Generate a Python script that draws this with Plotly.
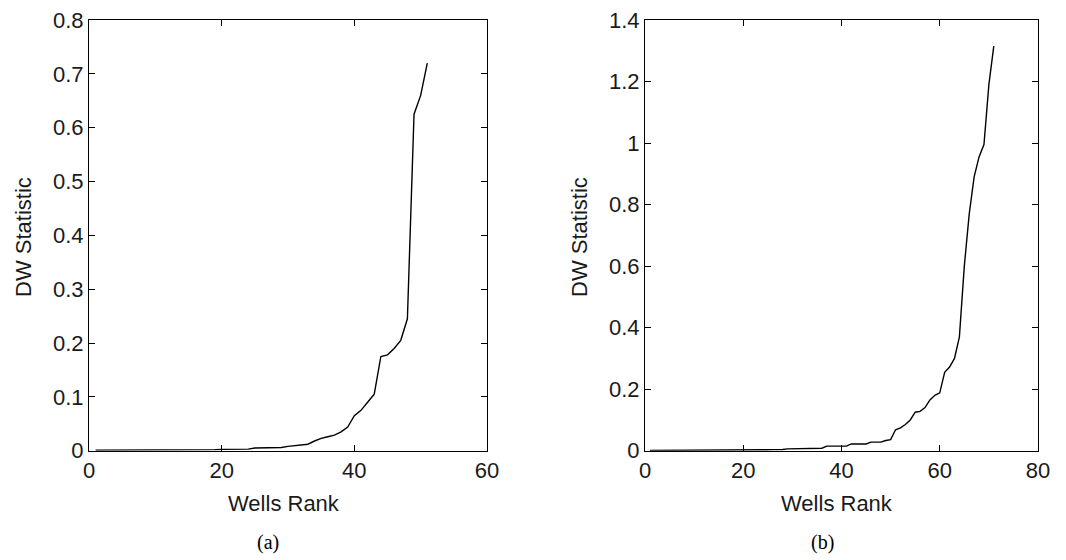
import plotly.graph_objects as go

# ---- data ----
rank_a = list(range(1, 52))
dw_a = [0.001, 0.001, 0.001, 0.001, 0.001, 0.001, 0.0015, 0.0015, 0.0015, 0.0015,
        0.0015, 0.0015, 0.002, 0.002, 0.002, 0.002, 0.002, 0.002, 0.002, 0.0025,
        0.0025, 0.0025, 0.003, 0.003, 0.005, 0.005, 0.005, 0.006, 0.006, 0.008,
        0.009, 0.010, 0.012, 0.018, 0.023, 0.026, 0.029, 0.035, 0.044, 0.065,
        0.075, 0.090, 0.105, 0.175, 0.178, 0.190, 0.205, 0.245, 0.625, 0.660,
        0.720]

rank_b = list(range(1, 72))
dw_b = [0.001, 0.001, 0.001, 0.001, 0.001, 0.001, 0.001, 0.0015, 0.0015, 0.0015,
        0.0015, 0.0015, 0.0015, 0.002, 0.002, 0.002, 0.002, 0.002, 0.002, 0.0025,
        0.0025, 0.0025, 0.003, 0.003, 0.003, 0.0035, 0.0035, 0.004, 0.006, 0.006,
        0.007, 0.007, 0.007, 0.008, 0.008, 0.008, 0.015, 0.015, 0.015, 0.015,
        0.015, 0.022, 0.022, 0.022, 0.022, 0.028, 0.028, 0.028, 0.033, 0.036,
        0.068, 0.074, 0.085, 0.100, 0.125, 0.128, 0.140, 0.165, 0.180, 0.188,
        0.255, 0.272, 0.300, 0.370, 0.600, 0.770, 0.890, 0.955, 0.995, 1.190,
        1.315]

x_ticks_a = [0, 20, 40, 60]
y_ticks_a = [0, 0.1, 0.2, 0.3, 0.4, 0.5, 0.6, 0.7, 0.8]
x_ticks_b = [0, 20, 40, 60, 80]
y_ticks_b = [0, 0.2, 0.4, 0.6, 0.8, 1.0, 1.2, 1.4]

x_title = "Wells Rank"
y_title = "DW Statistic"
captions = ["(a)", "(b)"]

# ---- figure ----
W, H = 1066, 560
FONT = "Liberation Sans, Arial, sans-serif"
TXT = "#1a1a1a"

fig = go.Figure()
fig.add_trace(go.Scatter(x=rank_a, y=dw_a, mode="lines",
                         line=dict(color="black", width=1.4),
                         xaxis="x", yaxis="y", showlegend=False))
fig.add_trace(go.Scatter(x=rank_b, y=dw_b, mode="lines",
                         line=dict(color="black", width=1.4),
                         xaxis="x2", yaxis="y2", showlegend=False))

ydom = [1 - 450.7 / H, 1 - 20 / H]
dom_a = [89 / W, 487 / W]
dom_b = [645 / W, 1038 / W]

axis_common = dict(showline=True, linecolor="black", linewidth=1, mirror="ticks",
                   ticks="inside", ticklen=6, tickwidth=1, tickcolor="black",
                   showgrid=False, zeroline=False, automargin=False,
                   tickfont=dict(family=FONT, size=22, color=TXT))

fig.update_layout(
    width=W, height=H, margin=dict(l=0, r=0, t=0, b=0),
    paper_bgcolor="white", plot_bgcolor="white", template="none",
    showlegend=False,
    xaxis=dict(domain=dom_a, range=[0, 60], tickvals=x_ticks_a, anchor="y", **axis_common),
    yaxis=dict(domain=ydom, range=[0, 0.8], tickvals=y_ticks_a, anchor="x", **axis_common),
    xaxis2=dict(domain=dom_b, range=[0, 80], tickvals=x_ticks_b, anchor="y2", **axis_common),
    yaxis2=dict(domain=ydom, range=[0, 1.4], tickvals=y_ticks_b,
                ticktext=["0", "0.2", "0.4", "0.6", "0.8", "1", "1.2", "1.4"],
                anchor="x2", **axis_common),
)

ann = []
# x-axis titles
for cx in [(89 + 487) / 2 - 4, (645 + 1038) / 2 - 5]:
    ann.append(dict(text=x_title, x=cx / W, y=1 - 503 / H, xref="paper", yref="paper",
                    xanchor="center", yanchor="middle", showarrow=False,
                    font=dict(family=FONT, size=22, color=TXT)))
# y-axis titles
for cx in [23, 579]:
    ann.append(dict(text=y_title, x=cx / W, y=1 - 237 / H, xref="paper", yref="paper",
                    xanchor="center", yanchor="middle", showarrow=False, textangle=-90,
                    font=dict(family=FONT, size=22, color=TXT)))
# captions
for cap, cx in zip(captions, [268, 822]):
    ann.append(dict(text=cap, x=cx / W, y=1 - 542 / H, xref="paper", yref="paper",
                    xanchor="center", yanchor="middle", showarrow=False,
                    font=dict(family="Liberation Serif, Times New Roman, serif", size=20, color="black")))
fig.update_layout(annotations=ann)

fig.write_html("out.html")
